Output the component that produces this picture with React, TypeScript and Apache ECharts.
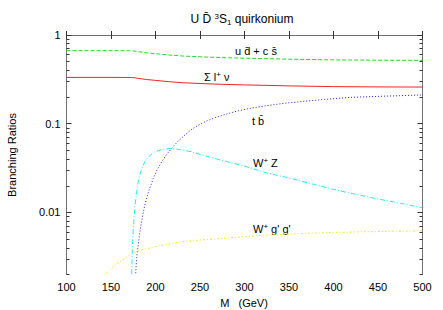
import React, { useEffect, useRef } from 'react';
import * as echarts from 'echarts';

// Branching ratios (x: M in GeV)
const massLight = [100, 150, 173, 177, 180, 185, 190, 200, 215, 230, 250, 275, 300, 350, 400, 450, 500];
const brLepton = [0.333, 0.333, 0.332, 0.329, 0.325, 0.32, 0.315, 0.308, 0.298, 0.29, 0.284, 0.278, 0.274, 0.267, 0.262, 0.26, 0.259];
const brLightQuark = [0.667, 0.666, 0.664, 0.658, 0.65, 0.64, 0.63, 0.616, 0.596, 0.58, 0.568, 0.556, 0.548, 0.534, 0.524, 0.52, 0.518];

const massTB = [177.3, 177.7, 178.5, 179.5, 180.6, 182, 184, 186, 188, 192, 197.5, 202, 207, 212, 218, 225, 233, 241, 250, 258, 267, 280, 293, 306, 325, 345, 362, 390, 418, 460, 500];
const brTB = [0.0012, 0.002, 0.0028, 0.0036, 0.0043, 0.0057, 0.0075, 0.0097, 0.0121, 0.017, 0.0242, 0.0305, 0.0373, 0.0444, 0.0527, 0.063, 0.0746, 0.087, 0.099, 0.108, 0.117, 0.129, 0.14, 0.149, 0.16, 0.17, 0.177, 0.188, 0.198, 0.205, 0.211];

const massWZ = [172.9, 173.4, 174, 175, 176, 177, 178.5, 180.6, 182, 184, 186, 188, 190, 193, 196, 199, 203, 207, 211, 216, 222, 228, 234, 240, 250, 265, 280, 300, 325, 350, 375, 400, 425, 450, 475, 500];
const brWZ = [0.0012, 0.0025, 0.004, 0.0065, 0.009, 0.0121, 0.016, 0.0222, 0.026, 0.03, 0.0338, 0.0373, 0.04, 0.043, 0.0458, 0.048, 0.0497, 0.051, 0.052, 0.0525, 0.052, 0.051, 0.0498, 0.0484, 0.0452, 0.041, 0.0375, 0.0333, 0.0279, 0.0245, 0.0211, 0.0182, 0.016, 0.0142, 0.0127, 0.0113];

const massWGG = [140, 143.2, 148, 154.5, 163, 173.2, 185, 199.4, 215, 229.3, 250, 265, 295, 325, 360, 400, 450, 500];
const brWGG = [0.0018, 0.002, 0.0022, 0.00255, 0.0029, 0.00346, 0.0038, 0.00411, 0.0044, 0.00468, 0.00489, 0.00501, 0.0053, 0.00556, 0.00577, 0.00596, 0.0061, 0.00622];

const yMajor = [0.01, 0.1, 1];
const yMinor = [0.002, 0.003, 0.004, 0.005, 0.006, 0.007, 0.008, 0.009, 0.02, 0.03, 0.04, 0.05, 0.06, 0.07, 0.08, 0.09, 0.2, 0.3, 0.4, 0.5, 0.6, 0.7, 0.8, 0.9];
const yMin = 0.002;
const yMax = 1;

const FONT = "'Liberation Sans', Arial, Helvetica, sans-serif";
const FRAME = '#707070';

const toPairs = (xs: number[], ys: number[]) => xs.map((x, i) => [x, Math.log10(ys[i])]);

const rich = {
  sup: { fontSize: 8, lineHeight: 8, verticalAlign: 'top', fontFamily: FONT, fill: '#000' },
  sub: { fontSize: 8, lineHeight: 8, verticalAlign: 'bottom', fontFamily: FONT, fill: '#000' },
};

const label = (text: string, x: number, y: number, align = 'left', size = 11) => ({
  type: 'text',
  x,
  y,
  silent: true,
  style: {
    text,
    fontSize: size,
    lineHeight: 14,
    fontFamily: FONT,
    fill: '#000',
    align,
    verticalAlign: 'middle',
    rich,
  },
});

export default function App() {
  const ref = useRef<HTMLDivElement>(null);
  useEffect(() => {
    if (!ref.current) return;
    const chart = echarts.init(ref.current, null, { renderer: 'svg' });
    const yLog = (v: number) => Math.log10(v);
    const makeY = (position: 'left' | 'right', major: boolean, labels: boolean) => ({
      type: 'value',
      position,
      min: yLog(yMin),
      max: yLog(yMax),
      splitLine: { show: false },
      axisLine: { show: major, lineStyle: { color: FRAME, width: 1 } },
      axisTick: {
        show: true,
        inside: true,
        length: major ? 5 : 3,
        customValues: (major ? yMajor : yMinor).map(yLog),
        lineStyle: { color: '#333', width: 1 },
      },
      axisLabel: {
        show: labels,
        customValues: yMajor.map(yLog),
        margin: 6,
        fontSize: 11,
        fontFamily: FONT,
        color: '#000',
        formatter: (v: number) => String(+Math.pow(10, v).toPrecision(1)),
      },
    });
    const makeX = (position: 'bottom' | 'top', labels: boolean) => ({
      type: 'value',
      position,
      min: 100,
      max: 500,
      interval: 50,
      splitLine: { show: false },
      axisLine: { show: true, lineStyle: { color: FRAME, width: 1 } },
      axisTick: { show: true, inside: true, length: 4, lineStyle: { color: '#333', width: 1 } },
      axisLabel: { show: labels, margin: 7, fontSize: 11, fontFamily: FONT, color: '#000' },
    });
    const line = (name: string, xs: number[], ys: number[], color: string, type: any) => ({
      type: 'line',
      name,
      data: toPairs(xs, ys),
      showSymbol: false,
      symbol: 'none',
      smooth: false,
      clip: true,
      lineStyle: { color, width: 1, type },
    });
    chart.setOption({
      animation: false,
      grid: { left: 66.5, right: 20.5, top: 35, bottom: 35.5, outerBoundsMode: 'none' },
      xAxis: [makeX('bottom', true), makeX('top', false)],
      yAxis: [
        makeY('left', true, true),
        makeY('left', false, false),
        makeY('right', true, false),
        makeY('right', false, false),
      ],
      series: [
        line('u d + c s', massLight, brLightQuark, '#22dd22', [4, 2]),
        line('Σ l+ ν', massLight, brLepton, '#ff2020', 'solid'),
        line('t b', massTB, brTB, '#2020ff', [1, 2]),
        line('W+ Z', massWZ, brWZ, '#22eeee', [5, 2, 1, 2]),
        line('W+ g g', massWGG, brWGG, '#eeee22', [2, 2, 1, 2]),
      ],
      graphic: [
        label('U D\u0304 {sup|3}S{sub|1} quirkonium', 242, 19, 'center', 12),
        label('u d\u0304 + c s\u0304', 235, 51),
        label('\u03a3 l{sup|+} \u03bd', 204, 77),
        label('t b\u0304', 252, 121),
        label('W{sup|+} Z', 253, 163),
        label("W{sup|+} g' g'", 253, 229),
        label('M   (GeV)', 244, 303, 'center'),
        {
          type: 'text',
          x: 12,
          y: 155,
          rotation: Math.PI / 2,
          silent: true,
          style: {
            text: 'Branching Ratios',
            fontSize: 11,
            fontFamily: FONT,
            fill: '#000',
            align: 'center',
            verticalAlign: 'middle',
          },
        },
      ],
    });
    return () => chart.dispose();
  }, []);
  return (
    <div
      ref={ref}
      style={{ position: 'fixed', left: 0, top: 0, width: 443, height: 310, background: '#fff' }}
    />
  );
}
